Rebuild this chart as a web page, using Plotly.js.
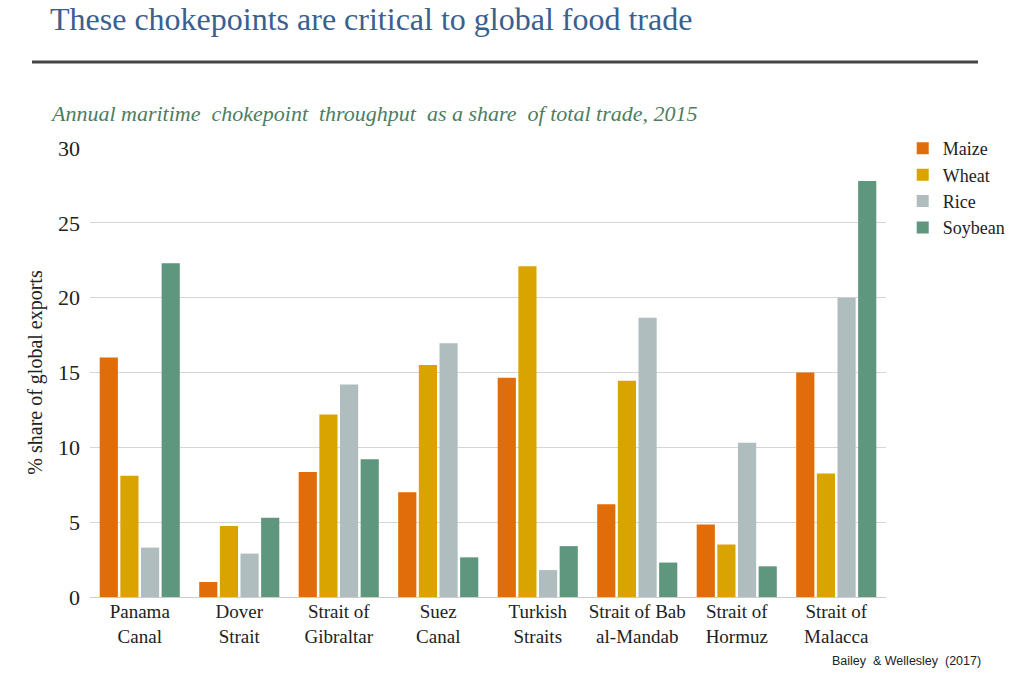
<!DOCTYPE html>
<html>
<head>
<meta charset="utf-8">
<script src="https://cdn.plot.ly/plotly-3.0.1.min.js"></script>
<style>html,body{margin:0;padding:0;background:#fff;}#chart{width:1024px;height:678px;}</style>
</head>
<body>
<div id="chart"></div>
<script>
const categories = ["Panama<br>Canal", "Dover<br>Strait", "Strait of<br>Gibraltar", "Suez<br>Canal", "Turkish<br>Straits", "Strait of Bab<br>al-Mandab", "Strait of<br>Hormuz", "Strait of<br>Malacca"];
const maize   = [16.0, 1.0, 8.35, 7.0, 14.65, 6.2, 4.85, 15.0];
const wheat   = [8.1, 4.75, 12.2, 15.5, 22.1, 14.45, 3.5, 8.25];
const rice    = [3.3, 2.9, 14.2, 16.95, 1.8, 18.65, 10.3, 20.0];
const soybean = [22.3, 5.3, 9.2, 2.65, 3.4, 2.3, 2.05, 27.8];
const seriesNames = ["Maize", "Wheat", "Rice", "Soybean"];
const seriesColors = ["#E06C0A", "#D9A400", "#AFBDBF", "#5E967E"];
const seriesValues = [maize, wheat, rice, soybean];

const traces = seriesValues.map((vals, i) => ({
  type: "bar",
  name: seriesNames[i],
  x: categories,
  y: vals,
  marker: {color: seriesColors[i], line: {width: 0}},
  hoverinfo: "y+name"
}));

const serif = "Liberation Serif, DejaVu Serif, serif";

const layout = {
  width: 1024, height: 678,
  margin: {l: 90, r: 138, t: 148, b: 81, autoexpand: false},
  paper_bgcolor: "#fff", plot_bgcolor: "#fff",
  barmode: "group",
  bargap: 0.17, bargroupgap: 0.12,
  showlegend: true,
  legend: {
    x: 1.021, y: 1.04, xanchor: "left", yanchor: "top",
    font: {family: serif, size: 18, color: "#222"},
    tracegroupgap: 0, itemwidth: 30
  },
  title: {
    text: "These chokepoints are critical to global food trade",
    x: 50/1024, xref: "container", xanchor: "left",
    y: 1 - 19/678, yref: "container", yanchor: "middle",
    font: {family: serif, size: 32, color: "#3A6090"}
  },
  xaxis: {
    tickfont: {family: serif, size: 19, color: "#222"},
    showline: true, linecolor: "#cccccc", linewidth: 1,
    ticks: "", showgrid: false, ticklabelstandoff: -3
  },
  yaxis: {
    range: [0, 30], dtick: 5,
    tickfont: {family: serif, size: 22, color: "#222"},
    showgrid: true, gridcolor: "#d6d6d6", gridwidth: 1,
    zeroline: false, ticks: "", ticklabelstandoff: 9,
    title: {text: "% share of global exports", font: {family: serif, size: 20, color: "#222"}, standoff: 10}
  },
  shapes: [{
    type: "line", xref: "paper", yref: "paper",
    x0: (32-90)/796, x1: (978-90)/796,
    y0: (597-62)/449, y1: (597-62)/449,
    line: {color: "#444", width: 3}
  }],
  annotations: [
    {
      text: "<i>Annual maritime  chokepoint  throughput  as a share  of total trade, 2015</i>",
      xref: "paper", yref: "paper",
      x: (48-90)/796, y: (597-113)/449, xanchor: "left", yanchor: "middle",
      showarrow: false,
      font: {family: serif, size: 22, color: "#4C7D62"}
    },
    {
      text: "Bailey  & Wellesley  (2017)",
      xref: "paper", yref: "paper",
      x: (983-90)/796, y: (597-661)/449, xanchor: "right", yanchor: "middle",
      showarrow: false,
      font: {family: "Liberation Sans, Arial, sans-serif", size: 12.5, color: "#222"}
    }
  ]
};

Plotly.newPlot("chart", traces, layout, {displayModeBar: false, staticPlot: true});
</script>
</body>
</html>
